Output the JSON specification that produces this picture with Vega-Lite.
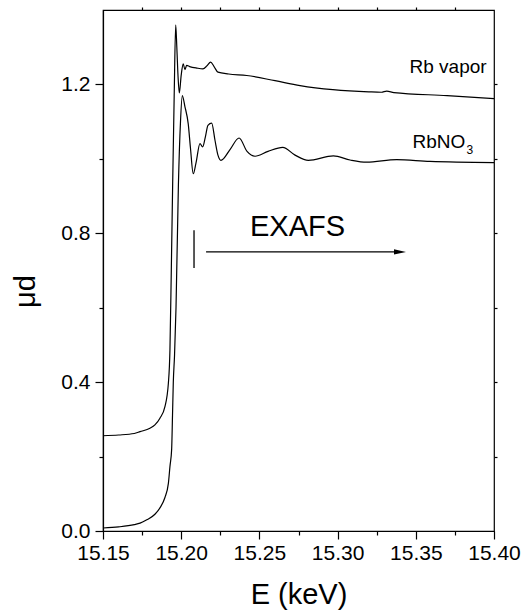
{
  "$schema": "https://vega.github.io/schema/vega-lite/v6.json",
  "width": 391,
  "height": 521,
  "autosize": "none",
  "padding": {"left": 103, "top": 10, "right": 29, "bottom": 81},
  "background": "white",
  "config": {
    "font": "Liberation Sans",
    "view": {"stroke": "black", "strokeWidth": 1.2},
    "axis": {
      "grid": false,
      "domainColor": "black",
      "domainWidth": 1.2,
      "tickColor": "black",
      "tickWidth": 1.2,
      "labelColor": "black",
      "labelFont": "Liberation Sans",
      "labelFontSize": 21,
      "titleFont": "Liberation Sans",
      "titleFontSize": 29,
      "titleFontWeight": "normal",
      "titleColor": "black"
    }
  },
  "datasets": {
    "spectra": [
      {"series": "Rb vapor", "E": 15.150, "v": 0.256},
      {"series": "Rb vapor", "E": 15.160, "v": 0.258},
      {"series": "Rb vapor", "E": 15.170, "v": 0.262},
      {"series": "Rb vapor", "E": 15.1737, "v": 0.267},
      {"series": "Rb vapor", "E": 15.180, "v": 0.276},
      {"series": "Rb vapor", "E": 15.1832, "v": 0.285},
      {"series": "Rb vapor", "E": 15.1864, "v": 0.303},
      {"series": "Rb vapor", "E": 15.1896, "v": 0.334},
      {"series": "Rb vapor", "E": 15.1918, "v": 0.397},
      {"series": "Rb vapor", "E": 15.1928, "v": 0.486},
      {"series": "Rb vapor", "E": 15.19367, "v": 0.70},
      {"series": "Rb vapor", "E": 15.19457, "v": 0.94},
      {"series": "Rb vapor", "E": 15.19552, "v": 1.17},
      {"series": "Rb vapor", "E": 15.19648, "v": 1.36},
      {"series": "Rb vapor", "E": 15.1972, "v": 1.30},
      {"series": "Rb vapor", "E": 15.1980, "v": 1.22},
      {"series": "Rb vapor", "E": 15.1988, "v": 1.177},
      {"series": "Rb vapor", "E": 15.2000, "v": 1.225},
      {"series": "Rb vapor", "E": 15.2013, "v": 1.255},
      {"series": "Rb vapor", "E": 15.2024, "v": 1.240},
      {"series": "Rb vapor", "E": 15.2035, "v": 1.251},
      {"series": "Rb vapor", "E": 15.2054, "v": 1.248},
      {"series": "Rb vapor", "E": 15.2100, "v": 1.244},
      {"series": "Rb vapor", "E": 15.2139, "v": 1.242},
      {"series": "Rb vapor", "E": 15.2165, "v": 1.250},
      {"series": "Rb vapor", "E": 15.2188, "v": 1.260},
      {"series": "Rb vapor", "E": 15.2210, "v": 1.248},
      {"series": "Rb vapor", "E": 15.2235, "v": 1.233},
      {"series": "Rb vapor", "E": 15.2303, "v": 1.228},
      {"series": "Rb vapor", "E": 15.2419, "v": 1.224},
      {"series": "Rb vapor", "E": 15.260, "v": 1.210},
      {"series": "Rb vapor", "E": 15.276, "v": 1.197},
      {"series": "Rb vapor", "E": 15.297, "v": 1.186},
      {"series": "Rb vapor", "E": 15.320, "v": 1.180},
      {"series": "Rb vapor", "E": 15.328, "v": 1.179},
      {"series": "Rb vapor", "E": 15.3314, "v": 1.182},
      {"series": "Rb vapor", "E": 15.336, "v": 1.178},
      {"series": "Rb vapor", "E": 15.370, "v": 1.170},
      {"series": "Rb vapor", "E": 15.400, "v": 1.162},
      {"series": "RbNO3", "E": 15.150, "v": 0.008},
      {"series": "RbNO3", "E": 15.160, "v": 0.011},
      {"series": "RbNO3", "E": 15.170, "v": 0.017},
      {"series": "RbNO3", "E": 15.1737, "v": 0.021},
      {"series": "RbNO3", "E": 15.178, "v": 0.030},
      {"series": "RbNO3", "E": 15.1832, "v": 0.045},
      {"series": "RbNO3", "E": 15.1864, "v": 0.062},
      {"series": "RbNO3", "E": 15.1896, "v": 0.090},
      {"series": "RbNO3", "E": 15.1918, "v": 0.128},
      {"series": "RbNO3", "E": 15.1928, "v": 0.173},
      {"series": "RbNO3", "E": 15.1939, "v": 0.22},
      {"series": "RbNO3", "E": 15.19444, "v": 0.31},
      {"series": "RbNO3", "E": 15.19495, "v": 0.40},
      {"series": "RbNO3", "E": 15.19572, "v": 0.47},
      {"series": "RbNO3", "E": 15.19668, "v": 0.60},
      {"series": "RbNO3", "E": 15.19821, "v": 0.93},
      {"series": "RbNO3", "E": 15.19955, "v": 1.10},
      {"series": "RbNO3", "E": 15.2007, "v": 1.170},
      {"series": "RbNO3", "E": 15.2024, "v": 1.140},
      {"series": "RbNO3", "E": 15.2045, "v": 1.094},
      {"series": "RbNO3", "E": 15.2059, "v": 1.030},
      {"series": "RbNO3", "E": 15.2077, "v": 0.960},
      {"series": "RbNO3", "E": 15.2095, "v": 0.990},
      {"series": "RbNO3", "E": 15.2120, "v": 1.041},
      {"series": "RbNO3", "E": 15.2137, "v": 1.032},
      {"series": "RbNO3", "E": 15.2155, "v": 1.060},
      {"series": "RbNO3", "E": 15.2171, "v": 1.090},
      {"series": "RbNO3", "E": 15.2195, "v": 1.096},
      {"series": "RbNO3", "E": 15.2216, "v": 1.050},
      {"series": "RbNO3", "E": 15.2235, "v": 1.010},
      {"series": "RbNO3", "E": 15.2254, "v": 0.996},
      {"series": "RbNO3", "E": 15.2312, "v": 1.025},
      {"series": "RbNO3", "E": 15.2370, "v": 1.056},
      {"series": "RbNO3", "E": 15.2421, "v": 1.020},
      {"series": "RbNO3", "E": 15.2472, "v": 1.007},
      {"series": "RbNO3", "E": 15.2555, "v": 1.020},
      {"series": "RbNO3", "E": 15.2649, "v": 1.031},
      {"series": "RbNO3", "E": 15.2728, "v": 1.010},
      {"series": "RbNO3", "E": 15.2813, "v": 0.996},
      {"series": "RbNO3", "E": 15.2973, "v": 1.008},
      {"series": "RbNO3", "E": 15.3080, "v": 0.997},
      {"series": "RbNO3", "E": 15.3186, "v": 0.991},
      {"series": "RbNO3", "E": 15.3378, "v": 0.998},
      {"series": "RbNO3", "E": 15.3590, "v": 0.993},
      {"series": "RbNO3", "E": 15.4000, "v": 0.990}
    ],
    "notes": [
      {"label": "Rb vapor", "E": 15.3953, "v": 1.2295},
      {"label": "RbNO", "E": 15.3479, "v": 1.0295},
      {"label": "3", "E": 15.3824, "v": 1.012},
      {"label": "EXAFS", "E": 15.244, "v": 0.792}
    ],
    "marker": [
      {"E": 15.2082, "v": 0.808, "v2": 0.707}
    ],
    "arrow": [
      {"E": 15.2159, "E2": 15.3399, "v": 0.750}
    ]
  },
  "layer": [
    {
      "data": {"name": "spectra"},
      "mark": {"type": "line", "color": "black", "strokeWidth": 1.2, "interpolate": "monotone", "clip": true},
      "encoding": {
        "x": {
          "field": "E", "type": "quantitative",
          "scale": {"domain": [15.15, 15.40], "nice": false, "zero": false},
          "axis": {
            "orient": "bottom",
            "values": [15.15, 15.20, 15.25, 15.30, 15.35, 15.40],
            "format": ".2f", "tickSize": 8, "labelPadding": 3,
            "labelFlush": false, "labelOverlap": false,
            "title": "E (keV)", "titlePadding": 17
          }
        },
        "y": {
          "field": "v", "type": "quantitative",
          "scale": {"domain": [0, 1.4], "nice": false},
          "axis": {
            "orient": "left",
            "values": [0, 0.4, 0.8, 1.2],
            "format": ".1f", "tickSize": 8, "labelPadding": 5,
            "labelFlush": false, "labelOverlap": false,
            "title": "μd", "titlePadding": 20, "titleY": 281
          }
        },
        "detail": {"field": "series", "type": "nominal"}
      }
    },
    {
      "data": {"name": "marker"},
      "mark": {"type": "rule", "color": "#222", "strokeWidth": 1.5},
      "encoding": {
        "x": {
          "field": "E", "type": "quantitative",
          "axis": {
            "orient": "bottom",
            "values": [15.175, 15.225, 15.275, 15.325, 15.375],
            "tickSize": 4, "labels": false, "domain": false, "title": null
          }
        },
        "y": {
          "field": "v", "type": "quantitative",
          "axis": {
            "orient": "left",
            "values": [0.2, 0.6, 1.0],
            "tickSize": 4, "labels": false, "domain": false, "title": null
          }
        },
        "y2": {"field": "v2"}
      }
    },
    {
      "data": {"name": "arrow"},
      "mark": {"type": "rule", "color": "black", "strokeWidth": 1.2},
      "encoding": {
        "x": {
          "field": "E", "type": "quantitative",
          "axis": {
            "orient": "top",
            "values": [15.175, 15.20, 15.225, 15.25, 15.275, 15.30, 15.325, 15.35, 15.375],
            "tickSize": 3, "labels": false, "domain": false, "title": null
          }
        },
        "x2": {"field": "E2"},
        "y": {
          "field": "v", "type": "quantitative",
          "axis": {
            "orient": "right",
            "values": [0.2, 0.4, 0.6, 0.8, 1.0, 1.2],
            "tickSize": 3, "labels": false, "domain": false, "title": null
          }
        }
      }
    },
    {
      "data": {"name": "arrow"},
      "mark": {"type": "point", "shape": "M-1,-0.42L1,0L-1,0.42Z", "size": 144, "filled": true, "color": "black", "opacity": 1},
      "encoding": {
        "x": {"field": "E2", "type": "quantitative", "axis": null},
        "y": {"field": "v", "type": "quantitative", "axis": null}
      }
    },
    {
      "data": {"name": "notes"},
      "transform": [{"filter": "datum.label === 'Rb vapor'"}],
      "mark": {"type": "text", "align": "right", "baseline": "alphabetic", "fontSize": 19, "color": "black"},
      "encoding": {
        "x": {"field": "E", "type": "quantitative", "axis": null},
        "y": {"field": "v", "type": "quantitative", "axis": null},
        "text": {"field": "label"}
      }
    },
    {
      "data": {"name": "notes"},
      "transform": [{"filter": "datum.label === 'RbNO'"}],
      "mark": {"type": "text", "align": "left", "baseline": "alphabetic", "fontSize": 19, "color": "black"},
      "encoding": {
        "x": {"field": "E", "type": "quantitative", "axis": null},
        "y": {"field": "v", "type": "quantitative", "axis": null},
        "text": {"field": "label"}
      }
    },
    {
      "data": {"name": "notes"},
      "transform": [{"filter": "datum.label === '3'"}],
      "mark": {"type": "text", "align": "left", "baseline": "alphabetic", "fontSize": 12, "color": "black"},
      "encoding": {
        "x": {"field": "E", "type": "quantitative", "axis": null},
        "y": {"field": "v", "type": "quantitative", "axis": null},
        "text": {"field": "label"}
      }
    },
    {
      "data": {"name": "notes"},
      "transform": [{"filter": "datum.label === 'EXAFS'"}],
      "mark": {"type": "text", "align": "left", "baseline": "alphabetic", "fontSize": 29, "color": "black"},
      "encoding": {
        "x": {"field": "E", "type": "quantitative", "axis": null},
        "y": {"field": "v", "type": "quantitative", "axis": null},
        "text": {"field": "label"}
      }
    }
  ],
  "resolve": {"axis": {"x": "independent", "y": "independent"}}
}
